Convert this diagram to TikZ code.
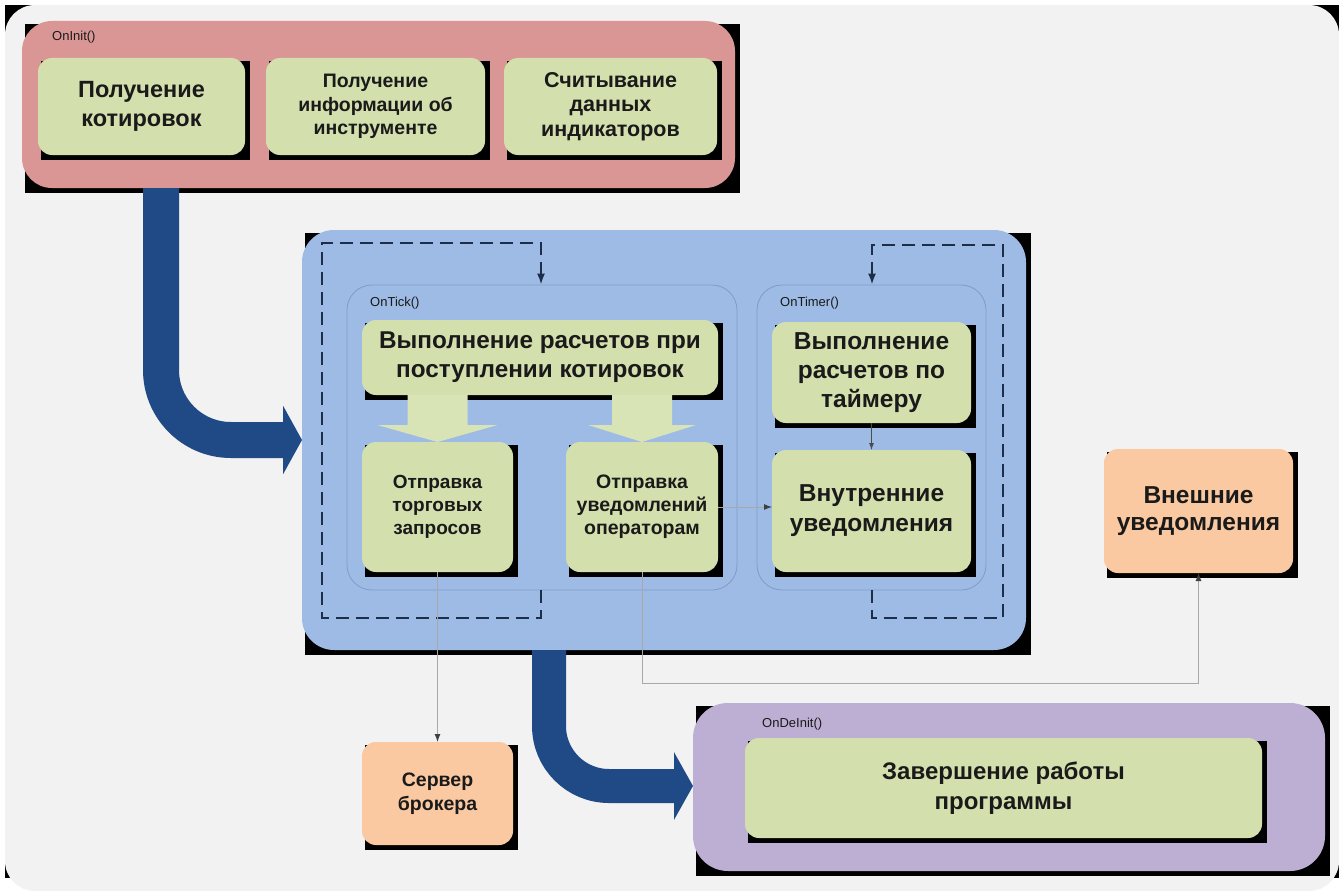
\documentclass[tikz,border=0pt]{standalone}
\usepackage{fontspec}
\setmainfont{Liberation Sans}
\usetikzlibrary{arrows.meta}
\definecolor{bggray}{HTML}{F2F2F2}
\definecolor{pinkbox}{HTML}{D99694}
\definecolor{bluebox}{HTML}{9DBBE4}
\definecolor{purplebox}{HTML}{BDAED3}
\definecolor{greenbox}{HTML}{D3DFAD}
\definecolor{palegreen}{HTML}{D8E4B6}
\definecolor{peachbox}{HTML}{FAC9A2}
\definecolor{navy}{HTML}{1F4A85}
\definecolor{dashcol}{HTML}{1C2E4A}
\definecolor{framecol}{HTML}{7E9CC8}
\definecolor{conncol}{HTML}{A8A8A8}
\definecolor{txtcol}{HTML}{1A1A1A}
\newcommand\fsz[2]{\fontsize{#1}{#2}\selectfont}
% name, x1, y1, x2, y2, radius, style, text
\newcommand\shbox[8]{%
  \fill[black] ({(#2)+3},{(#3)+3}) rectangle ({(#4)+5},{(#5)+5});
  \node[rounded corners=#6, inner sep=0pt, outer sep=0pt, align=center,
        text=txtcol, minimum width={(#4)-(#2)}, minimum height={(#5)-(#3)}, #7]
        (#1) at ({((#2)+(#4))/2},{((#3)+(#5))/2}) {#8};}
\begin{document}
\begin{tikzpicture}[x=1pt,y=-1pt,
  green/.style={fill=greenbox},
  peach/.style={fill=peachbox},
  lbl/.style={anchor=west, inner sep=0pt, text=txtcol, font=\fsz{13}{15}},
  frame/.style={draw=framecol, line width=0.8pt, rounded corners=25pt},
  dashloop/.style={draw=dashcol, line width=2pt, dash pattern=on 13pt off 7pt,
    -{Latex[length=11pt,width=8pt]}},
  conn/.style={draw=conncol, line width=1pt, -{Latex[length=8pt,width=6pt,color=black!75]}},
  smallarr/.style={draw=black!70, line width=0.8pt, -{Latex[length=7pt,width=5pt]}},
  bigarrow/.style={draw=navy, line width=#1, rounded corners=70pt},
  palearrow/.style={fill=palegreen}
]
\useasboundingbox (0,0) rectangle (1339,891);
% background
\fill[black] (5,5) rectangle (1339,878);
\fill[bggray, rounded corners=30pt] (5,5) rectangle (1339,891);

% OnInit
\shbox{oninit}{22}{21}{735}{188}{30pt}{fill=pinkbox}{}
\node[lbl] (lbinit) at (52,37) {OnInit()};
\shbox{quotes}{38}{58}{245}{155}{14pt}{green, font=\fsz{23.5}{29}\bfseries}{Получение\\котировок}
\shbox{instr}{266}{58}{485}{155}{14pt}{green, font=\fsz{19.5}{23.5}\bfseries}{Получение\\информации об\\инструменте}
\shbox{indic}{504}{58}{717}{155}{14pt}{green, font=\fsz{21.5}{24.5}\bfseries}{Считывание\\данных\\индикаторов}

% main blue block
\shbox{blue}{302}{230}{1026}{650}{32pt}{fill=bluebox}{}
\node[frame, minimum width=390pt, minimum height=305pt, inner sep=0pt] (tick) at (542,437.5) {};
\node[frame, minimum width=229pt, minimum height=305pt, inner sep=0pt] (timer) at (871.5,437.5) {};
\node[lbl] (lbtick) at (370,303) {OnTick()};
\node[lbl] (lbtimer) at (780,303) {OnTimer()};

\shbox{calc}{362}{320}{718}{395}{14pt}{green, font=\fsz{24.3}{29}\bfseries}{Выполнение расчетов при\\поступлении котировок}
\shbox{send1}{362}{442}{513}{572}{14pt}{green, font=\fsz{19}{23}\bfseries}{Отправка\\торговых\\запросов}
\shbox{send2}{566}{442}{718}{572}{14pt}{green, font=\fsz{19.5}{23}\bfseries}{Отправка\\уведомлений\\операторам}
\fill[palearrow] (send1.north) -- ++(-60,-17) -- ++(30,0) -- ++(0,-30) -- ++(60,0) -- ++(0,30) -- ++(30,0) -- cycle;
\fill[palearrow] (send2.north) -- ++(-54,-17) -- ++(24,0) -- ++(0,-30) -- ++(60,0) -- ++(0,30) -- ++(24,0) -- cycle;

\shbox{tcalc}{772}{322}{971}{423}{14pt}{green, font=\fsz{24.5}{29}\bfseries}{Выполнение\\расчетов по\\таймеру}
\shbox{intn}{772}{450}{971}{572}{14pt}{green, font=\fsz{24.5}{30}\bfseries}{Внутренние\\уведомления}

% dashed loops
\coordinate (dlx) at (541,0);
\coordinate (drx) at (872,0);
\draw[dashloop] (tick.south -| dlx) -- ++(0,28) -| (322,243) -| (tick.north -| dlx);
\draw[dashloop] (timer.south -| drx) -- ++(0,28) -| (1003,245) -| (timer.north -| drx);

% external boxes
\shbox{server}{362}{742}{513}{845}{14pt}{peach, font=\fsz{19.5}{24}\bfseries}{Сервер\\брокера}
\shbox{ext}{1104}{449}{1293}{573}{14pt}{peach, font=\fsz{24.5}{27}\bfseries}{Внешние\\уведомления}

% OnDeinit
\shbox{purple}{693}{703}{1325}{871}{35pt}{fill=purplebox}{}
\node[lbl] (lbdeinit) at (762,724) {OnDeInit()};
\shbox{fin}{745}{738}{1262}{838}{14pt}{green, font=\fsz{24}{30}\bfseries}{Завершение работы\\программы}

% thin connectors
\draw[smallarr] (tcalc.south) -- (intn.north);
\draw[conn] (send1.south) -- (server.north);
\draw[conn] (send2.east) -- (send2.east -| intn.west);
\draw[conn] (send2.south) -- ++(0,111) -| (ext.south);

% big arrows
\coordinate (c1) at (161,440);
\coordinate (c2) at (549,786);
\draw[bigarrow=36pt, -{Triangle[length=19pt,width=68pt]}] (oninit.south -| c1) |- (blue.west |- c1);
\draw[bigarrow=34pt, rounded corners=60pt, -{Triangle[length=19pt,width=67pt]}] (blue.south -| c2) |- (purple.west |- c2);
\end{tikzpicture}
\end{document}
